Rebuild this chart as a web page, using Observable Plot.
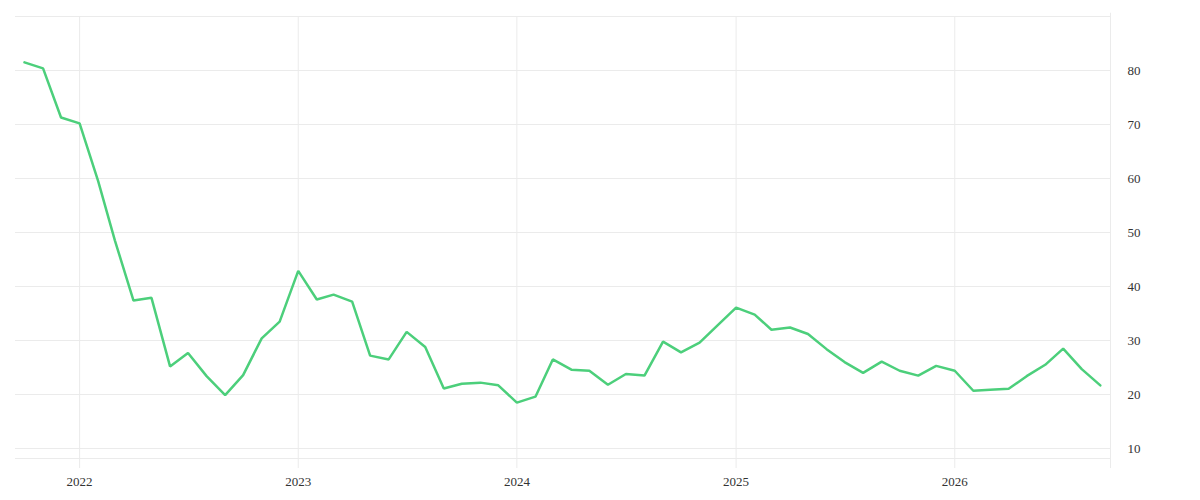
<!DOCTYPE html>
<html>
<head>
<meta charset="utf-8">
<script src="https://cdn.jsdelivr.net/npm/d3@7"></script>
<script src="https://cdn.jsdelivr.net/npm/@observablehq/plot@0.6"></script>
<style>
  html, body { margin: 0; padding: 0; background: #fff; }
  #chart svg { display: block; }
</style>
</head>
<body>
<div id="chart"></div>
<script>
const months = [
  "2021-10","2021-11","2021-12",
  "2022-01","2022-02","2022-03","2022-04","2022-05","2022-06","2022-07","2022-08","2022-09","2022-10","2022-11","2022-12",
  "2023-01","2023-02","2023-03","2023-04","2023-05","2023-06","2023-07","2023-08","2023-09","2023-10","2023-11","2023-12",
  "2024-01","2024-02","2024-03","2024-04","2024-05","2024-06","2024-07","2024-08","2024-09","2024-10","2024-11","2024-12",
  "2025-01","2025-02","2025-03","2025-04","2025-05","2025-06","2025-07","2025-08","2025-09","2025-10","2025-11","2025-12",
  "2026-01","2026-02","2026-03","2026-04","2026-05","2026-06","2026-07","2026-08","2026-09"
];
const values = [
  81.5, 80.4, 71.3,
  70.2, 59.5, 48.5, 37.4, 37.9, 25.2, 27.7, 23.4, 19.9, 23.6, 30.4, 33.5,
  42.9, 37.6, 38.5, 37.2, 27.2, 26.5, 31.6, 28.8, 21.1, 22.0, 22.2, 21.7,
  18.5, 19.6, 26.5, 24.6, 24.4, 21.8, 23.8, 23.5, 29.8, 27.8, 29.6, 32.8,
  36.1, 34.8, 32.0, 32.4, 31.2, 28.4, 26.0, 24.0, 26.1, 24.4, 23.5, 25.3,
  24.4, 20.7, 20.9, 21.05, 23.4, 25.5, 28.5, 24.7, 21.7
];
const yTicks = [10, 20, 30, 40, 50, 60, 70, 80];
const yDomain = [8.15, 90];
const xTickYears = ["2022", "2023", "2024", "2025", "2026"];
const xDomainStr = ["2021-09-16", "2026-09-18"];

const parse = d3.utcParse("%Y-%m");
const data = months.map((m, i) => ({date: parse(m), value: values[i]}));
const xDomain = xDomainStr.map(d3.utcParse("%Y-%m-%d"));
const xTicks = xTickYears.map(d3.utcParse("%Y"));

const gridColor = "#ebebeb";

const chart = Plot.plot({
  width: 1200,
  height: 500,
  marginTop: 16,
  marginBottom: 42,
  marginLeft: 15,
  marginRight: 90,
  style: {fontFamily: "'Liberation Serif', serif", fontSize: "13px", color: "#333", background: "#fff"},
  x: {type: "utc", domain: xDomain},
  y: {domain: yDomain},
  marks: [
    Plot.ruleY([...yTicks, yDomain[0], yDomain[1]], {stroke: gridColor, strokeWidth: 1}),
    Plot.gridX({ticks: xTicks, stroke: gridColor, strokeOpacity: 1}),
    Plot.ruleX([xDomain[1]], {stroke: gridColor, y1: 90.6, y2: 6.3}),
    Plot.axisX({ticks: xTicks, tickFormat: d3.utcFormat("%Y"), tickSize: 10, stroke: gridColor, fill: "#333", tickPadding: 8, label: null}),
    Plot.axisY({anchor: "right", ticks: yTicks, tickSize: 0, tickPadding: 17, fill: "#333", label: null, textAnchor: "start"}),
    Plot.line(data, {x: "date", y: "value", stroke: "#4ccf7b", strokeWidth: 2.5, strokeLinejoin: "miter"})
  ]
});
document.getElementById("chart").appendChild(chart);
</script>
</body>
</html>
